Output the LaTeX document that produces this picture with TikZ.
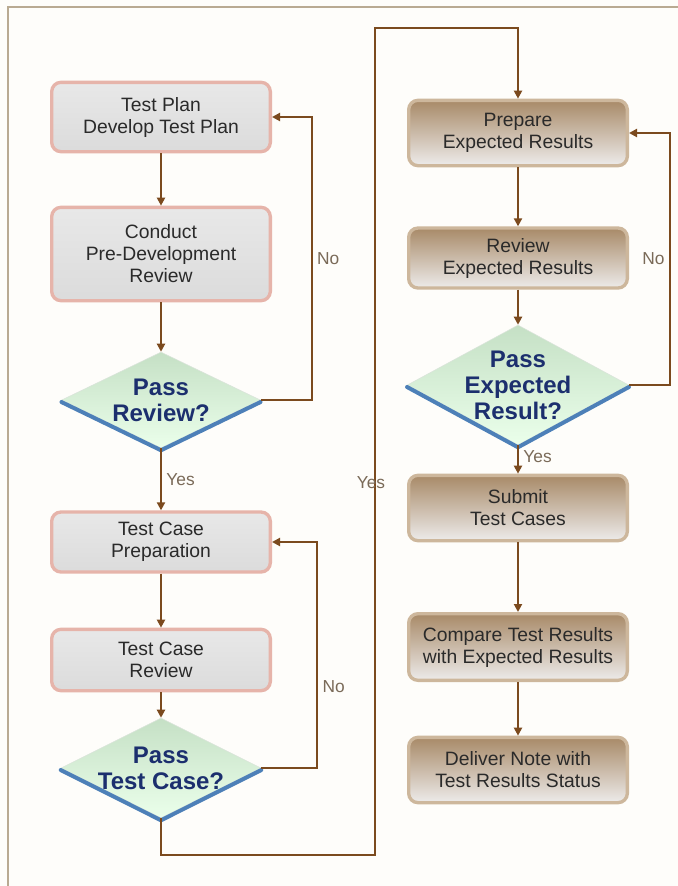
\documentclass[tikz,border=0pt]{standalone}
\usepackage{fontspec}
\setmainfont{Liberation Sans}
\usetikzlibrary{shapes.geometric,arrows.meta}
\definecolor{flowline}{HTML}{7B4A1E}
\definecolor{pinkrim}{HTML}{E6B4AA}
\definecolor{tanrim}{HTML}{CDB79C}
\definecolor{framecol}{HTML}{B9AA92}
\definecolor{paper}{HTML}{FEFDFA}
\definecolor{boxtext}{HTML}{2A2A2A}
\definecolor{asktext}{HTML}{1C2F6E}
\definecolor{askedge}{HTML}{4D80B8}
\definecolor{labeltext}{HTML}{7A6A58}
\definecolor{peach}{HTML}{F5DEC8}
\definecolor{mudtop}{HTML}{A88A68}
\definecolor{mudmid}{HTML}{C9B298}
\definecolor{mudlow}{HTML}{EDEBEA}
\begin{document}
\begin{tikzpicture}[x=0.75pt,y=-0.75pt,
  >={Triangle[length=6pt,width=6pt]},
  flow/.style={draw=flowline,line width=1.5pt},
  tag/.style={text=labeltext,font=\fontsize{13}{15}\selectfont},
  plainbox/.style={rectangle,rounded corners=7pt,line width=2.5pt,minimum width=164pt,
    inner sep=2pt,align=center,text=boxtext,font=\fontsize{14.5}{16.5}\selectfont},
  pinkbox/.style={plainbox,draw=pinkrim,top color=gray!18,middle color=peach,bottom color=gray!28},
  brownbox/.style={plainbox,draw=tanrim,top color=mudtop,middle color=mudmid,bottom color=mudlow},
  decision/.style={diamond,draw=green!15!gray!25,inner sep=0pt,top color=green!30!gray!35,bottom color=green!8},
  asklabel/.style={align=center,text=asktext,font=\fontsize{18}{19.5}\selectfont\bfseries},
  askrim/.style={draw=askedge,line width=3pt,line cap=round,line join=round}]
\useasboundingbox[fill=paper] (0,0) rectangle (678,886);
\draw[framecol,line width=2pt] (8,886) -- (8,7) -- (678,7);

% left column
\node[pinkbox,minimum height=52pt](plan) at (161,117) {Test Plan\\Develop Test Plan};
\node[pinkbox,minimum height=70pt](conduct) at (161,254) {Conduct\\Pre-Development\\Review};
\node[decision,minimum width=149pt,minimum height=72pt,
  label={[asklabel]center:Pass\\Review?}](revq) at (161,400) {};
\node[pinkbox,minimum height=45pt](prep) at (161,542) {Test Case\\Preparation};
\node[pinkbox,minimum height=46pt](tcrev) at (161,660) {Test Case\\Review};
\node[decision,minimum width=150pt,minimum height=75pt,
  label={[asklabel]center:Pass\\Test Case?}](tcq) at (161,768) {};

% right column
\node[brownbox,minimum height=49pt](expprep) at (518,133) {Prepare\\Expected Results};
\node[brownbox,minimum height=45pt](exprev) at (518,258) {Review\\Expected Results};
\node[decision,minimum width=166pt,minimum height=90pt,
  label={[asklabel]center:Pass\\Expected\\Result?}](expq) at (518,385) {};
\node[brownbox,minimum height=49pt](submit) at (518,508) {Submit\\Test Cases};
\node[brownbox,minimum height=50pt](compare) at (518,647) {Compare Test Results\\with Expected Results};
\node[brownbox,minimum height=49pt](deliver) at (518,770) {Deliver Note with\\Test Results Status};

% blue lower rims of the decisions
\foreach \q in {revq,tcq,expq}
  \draw[askrim] ([yshift=-1.5pt]\q.west) -- ([yshift=-1.5pt]\q.south) -- ([yshift=-1.5pt]\q.east);

\coordinate (bottomturn) at (375,855);
\coordinate (topturn) at (375,28);

\draw[flow,->] (plan.south) -- (conduct.north);
\draw[flow,->] (conduct.south) -- (revq.north);
\draw[flow,->] (revq.south) -- node[tag,right,pos=0.5]{Yes} (prep.north);
\draw[flow,->] (revq.east) -- ++(51,0) |- node[tag,right,pos=0.25]{No} (plan.east);
\draw[flow,->] (prep.south) -- (tcrev.north);
\draw[flow,->] (tcrev.south) -- (tcq.north);
\draw[flow,->] (tcq.east) -- ++(56,0) |- node[tag,right,pos=0.18]{No} (prep.east);
\draw[flow,->] (tcq.south) |- (bottomturn) -- node[tag,pos=0.45,xshift=-3pt]{Yes} (topturn) -| (expprep.north);
\draw[flow,->] (expprep.south) -- (exprev.north);
\draw[flow,->] (exprev.south) -- (expq.north);
\draw[flow,->] (expq.east) -- ++(41,0) |- node[tag,left,pos=0.25]{No} (expprep.east);
\draw[flow,->] (expq.south) -- node[tag,right,pos=0.4]{Yes} (submit.north);
\draw[flow,->] (submit.south) -- (compare.north);
\draw[flow,->] (compare.south) -- (deliver.north);
\end{tikzpicture}
\end{document}
